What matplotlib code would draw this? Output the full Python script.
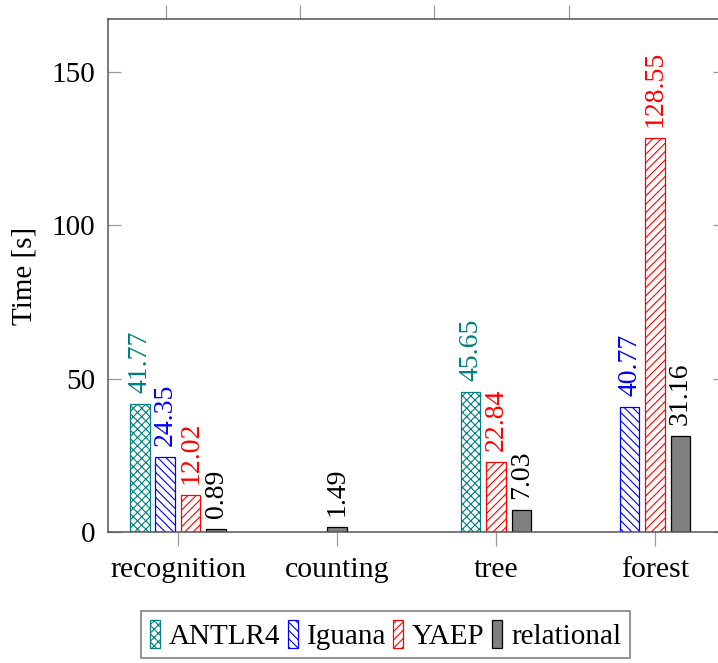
import matplotlib
matplotlib.use("Agg")
import matplotlib.pyplot as plt
from matplotlib.patches import Patch
import numpy as np

categories = ["recognition", "counting", "tree", "forest"]
series_names = ["ANTLR4", "Iguana", "YAEP", "relational"]
antlr4 = [41.77, None, 45.65, None]
iguana = [24.35, None, None, 40.77]
yaep = [12.02, None, 22.84, 128.55]
relational = [0.89, 1.49, 7.03, 31.16]
y_ticks = [0, 50, 100, 150]

all_series = [antlr4, iguana, yaep, relational]
colors = ["#008080", "#0000ff", "#ff0000", "black"]
faces = ["white", "white", "white", "#808080"]
hatches = ["xxxx", "\\\\\\\\", "////", None]

plt.rcParams["font.family"] = ["Liberation Serif", "DejaVu Serif"]
plt.rcParams["hatch.linewidth"] = 0.8

fig = plt.figure(figsize=(7.18, 6.63), dpi=100)
ax_w = 725 - 108
ax = fig.add_axes([108/718, 1-532/663, ax_w/718, (532-19)/663])

step = 0.16
width = 0.123
for ci, cat in enumerate(categories):
    present = [si for si, s in enumerate(all_series) if s[ci] is not None]
    n = len(present)
    for k, si in enumerate(present):
        v = all_series[si][ci]
        x = ci + (k - (n - 1) / 2) * step
        ax.bar(x, v, width=width, facecolor=faces[si], edgecolor=colors[si],
               hatch=hatches[si], linewidth=0.9, zorder=2)
        ax.annotate(f"{v:.2f}", (x, v), xytext=(0, 8), textcoords="offset points",
                    rotation=90, ha="center", va="bottom", color=colors[si],
                    fontsize=20, zorder=3)

ax.set_xlim(-0.44, 3.44)
ax.set_ylim(0, 167.3)
ax.set_xticks(range(len(categories)))
ax.set_xticklabels(categories, fontsize=21.5)
ax.set_yticks(y_ticks)
ax.set_yticklabels([str(t) for t in y_ticks], fontsize=21)
ax.tick_params(axis="y", direction="in", length=9, width=0.9, color="#999999",
               left=True, right=True, pad=9)
ax.tick_params(axis="x", direction="out", length=10, width=0.9, color="#999999",
               bottom=True, top=False, pad=8)
for sp in ax.spines.values():
    sp.set_color("#555555")
    sp.set_linewidth(1.1)

# odd top ticks of the original
top = ax.secondary_xaxis("top")
top.set_xticks([-0.076, 0.769, 1.613, 2.457])
top.set_xticklabels([])
top.tick_params(direction="out", length=10, width=0.9, color="#999999")
top.spines["top"].set_visible(False)

ax.set_ylabel("Time [s]", fontsize=21)
ax.yaxis.label.set_verticalalignment("center")
ax.yaxis.set_label_coords((24 - 108) / ax_w, 0.5)

handles = [Patch(facecolor=faces[i], edgecolor=colors[i], hatch=hatches[i], linewidth=0.9)
           for i in range(4)]
leg = fig.legend(handles, series_names, loc="upper left",
                 bbox_to_anchor=(141/718, 1-611/663), ncol=4, fontsize=21,
                 frameon=True, fancybox=False, handlelength=0.35, handleheight=1.1,
                 handletextpad=0.3, columnspacing=0.25, borderpad=0.3,
                 borderaxespad=0)
leg.get_frame().set_edgecolor("#555555")
leg.get_frame().set_linewidth(1.1)

fig.savefig("out.png", dpi=100)
